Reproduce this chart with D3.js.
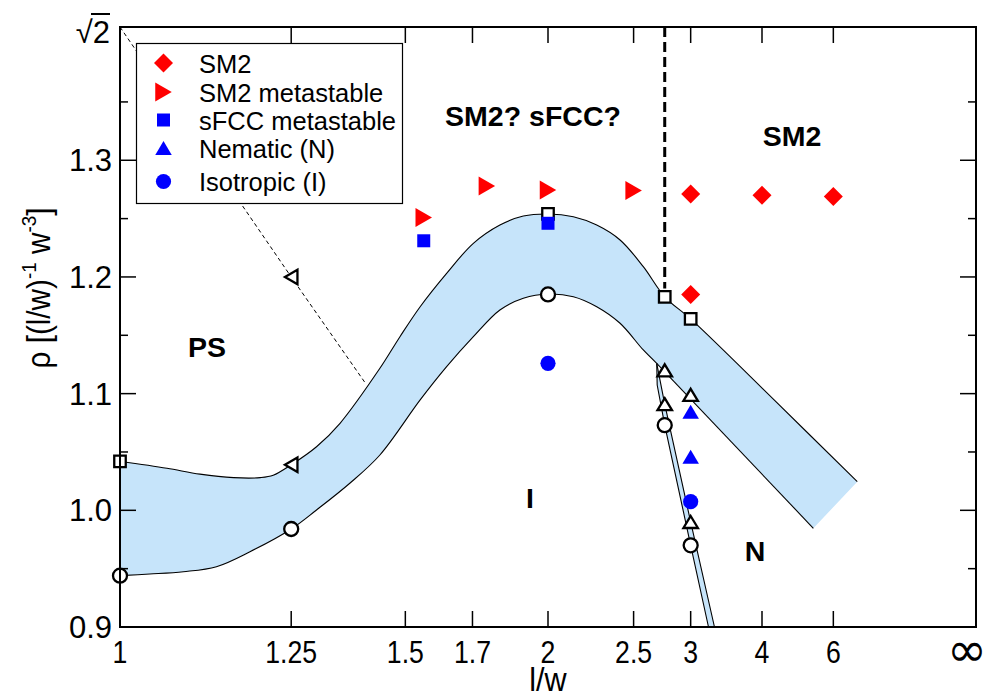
<!DOCTYPE html>
<html>
<head>
<meta charset="utf-8">
<script src="https://cdn.jsdelivr.net/npm/d3@7"></script>
<style>
    body { margin: 0; background: white; }
</style>
</head>
<body>
<div id="canvas"></div>
<script>
"use strict";

/**** CONFIGURATION VARIABLES ****/
let svgWidth = 987;
let svgHeight = 692;

let plotLeft = 120;
let plotRight = 976;
let plotTop = 27;
let plotBottom = 627;

let fontMain = "'Liberation Sans', Arial, Helvetica, sans-serif";
let narrow = 0.82;   // axis labels are set in a condensed face

/**** TICKS ****/
let xTicks = [1, 1.25, 1.5, 1.7, 2, 2.5, 3, 4, 6, Infinity];
let xTickLabels = ["1", "1.25", "1.5", "1.7", "2", "2.5", "3", "4", "6", "∞"];
let yTicks = [0.9, 1.0, 1.1, 1.2, 1.3];
let yTickLabels = ["0.9", "1.0", "1.1", "1.2", "1.3"];
let yMinorTicks = [0.95, 1.05, 1.15, 1.25, 1.35];

/**** SIMULATION STATE POINTS (l/w, rho) ****/
let sm2 = [[3, 1.271], [4, 1.270], [6, 1.269], [3, 1.185]];
let sm2Meta = [[1.55, 1.251], [1.75, 1.278], [2, 1.2745], [2.5, 1.274]];
let sfccMeta = [[1.55, 1.231], [2, 1.246]];
let nematic = [[3, 1.0845], [3, 1.046]];
let isotropic = [[2, 1.126], [3, 1.0074]];

/**** COEXISTENCE POINTS ****/
let coexSquares = [[1, 1.042], [2, 1.254], [2.75, 1.183], [3, 1.164]];
let coexCircles = [[1, 0.944], [1.25, 0.984], [2, 1.185], [2.75, 1.073], [3, 0.970]];
let coexTriUp = [[2.75, 1.120], [2.75, 1.091], [3, 1.099], [3, 0.990]];
let coexTriLeft = [[1.25, 1.039], [1.25, 1.200]];

/**** PHASE BOUNDARIES ****/
let upperCurve = [[1, 1.042], [1.058, 1.036], [1.103, 1.031], [1.153, 1.028], [1.196, 1.028],
    [1.218, 1.030], [1.25, 1.039], [1.298, 1.0545], [1.346, 1.0746], [1.436, 1.1217],
    [1.486, 1.1488], [1.540, 1.1745], [1.617, 1.2031], [1.703, 1.2288], [1.798, 1.2445],
    [1.891, 1.2522], [2, 1.254], [2.126, 1.2516], [2.257, 1.2445], [2.405, 1.2317],
    [2.573, 1.2088], [2.75, 1.183], [3, 1.164], [4.24, 1.0946], [7.21, 1.0245]];
let lowerCurve = [[1, 0.944], [1.036, 0.9454], [1.080, 0.9474], [1.127, 0.9517], [1.179, 0.9645],
    [1.25, 0.984], [1.298, 1.0003], [1.367, 1.0232], [1.436, 1.0474], [1.540, 1.0946],
    [1.617, 1.1231], [1.703, 1.1488], [1.798, 1.1717], [1.891, 1.1817], [2, 1.1854],
    [2.126, 1.1831], [2.257, 1.1745], [2.405, 1.1603], [2.573, 1.1374], [2.681, 1.126]];
let nLineLow = [[2.681, 1.126], [2.685, 1.1074], [2.75, 1.073], [3, 0.970], [3.2, 0.9]];
let nLineHigh = [[2.681, 1.126], [2.75, 1.091], [3, 0.990], [3.273, 0.9]];
let nsmLine = [[2.681, 1.126], [5.263, 0.9846]];
let bandCap = [5.263, 0.9846];
let psLine = [[1, Math.SQRT2], [1.25, 1.2], [1.4, 1.11]];
let sm2Divider = [[2.75, Math.SQRT2], [2.75, 1.19]];

/**** REGION LABELS ****/
let regionLabels = [
    { text: "SM2? sFCC?", x: 533, y: 126 },
    { text: "SM2", x: 792, y: 146 },
    { text: "PS", x: 207, y: 357 },
    { text: "I", x: 530, y: 508 },
    { text: "N", x: 755, y: 561 }
];

/**** CREATE SVG CANVAS ****/
let svg = d3.select("#canvas")
    .append("svg")
    .attr("width", svgWidth)
    .attr("height", svgHeight)
    .style("display", "block")
    .style("background", "white");

/**** CREATE SCALES ****/
// x axis is linear in 1 - w/l, so l/w = infinity lands on the right edge
let uScale = d3.scaleLinear()
    .domain([0, 1])
    .range([plotLeft, plotRight]);

function xPos(v) {
    return uScale(1 - 1 / v);
}

let yScale = d3.scaleLinear()
    .domain([0.9, Math.SQRT2])
    .range([plotBottom, plotTop]);

let smoothLine = d3.line()
    .x(function(d) { return xPos(d[0]); })
    .y(function(d) { return yScale(d[1]); })
    .curve(d3.curveCatmullRom.alpha(0.5));

let straightLine = d3.line()
    .x(function(d) { return xPos(d[0]); })
    .y(function(d) { return yScale(d[1]); });

/**** COEXISTENCE BANDS ****/
let lowerBack = smoothLine(lowerCurve.slice().reverse()).replace(/^M/, "L");
let bandPath = smoothLine(upperCurve)
    + "L" + xPos(bandCap[0]) + "," + yScale(bandCap[1])
    + lowerBack + "Z";

svg.append("path")
    .attr("d", bandPath)
    .attr("fill", "#c6e4fa")
    .attr("stroke", "none");

let narrowPath = straightLine(nLineLow.concat(nLineHigh.slice().reverse())) + "Z";
svg.append("path")
    .attr("d", narrowPath)
    .attr("fill", "#c6e4fa")
    .attr("stroke", "none");

/**** BOUNDARY LINES ****/
[upperCurve, lowerCurve].forEach(function(c) {
    svg.append("path")
        .attr("d", smoothLine(c))
        .attr("fill", "none")
        .attr("stroke", "black")
        .attr("stroke-width", 1.1);
});

[nLineLow, nLineHigh, nsmLine].forEach(function(c) {
    svg.append("path")
        .attr("d", straightLine(c))
        .attr("fill", "none")
        .attr("stroke", "black")
        .attr("stroke-width", 1.1);
});

svg.append("path")
    .attr("d", straightLine(psLine))
    .attr("fill", "none")
    .attr("stroke", "black")
    .attr("stroke-width", 1)
    .attr("stroke-dasharray", "4,3");

svg.append("path")
    .attr("d", straightLine(sm2Divider))
    .attr("fill", "none")
    .attr("stroke", "black")
    .attr("stroke-width", 3)
    .attr("stroke-dasharray", "10,5");

/**** MARKER SHAPES ****/
function squarePath(s) {
    return "M" + (-s / 2) + "," + (-s / 2) + "h" + s + "v" + s + "h" + (-s) + "Z";
}
function diamondPath(r) {
    return "M0," + (-r) + "L" + r + ",0L0," + r + "L" + (-r) + ",0Z";
}
function triUpPath(w, h) {
    return "M0," + (-h / 2) + "L" + (w / 2) + "," + (h / 2) + "L" + (-w / 2) + "," + (h / 2) + "Z";
}
function triRightPath(w, h) {
    return "M" + (-w / 2) + "," + (-h / 2) + "L" + (w / 2) + ",0L" + (-w / 2) + "," + (h / 2) + "Z";
}
function triLeftPath(w, h) {
    return "M" + (w / 2) + "," + (-h / 2) + "L" + (-w / 2) + ",0L" + (w / 2) + "," + (h / 2) + "Z";
}
function circlePath(r) {
    return "M" + r + ",0A" + r + "," + r + " 0 1,1 " + (-r) + ",0A" + r + "," + r + " 0 1,1 " + r + ",0Z";
}

function drawMarkers(data, shape, fill, stroke) {
    svg.append("g")
        .selectAll("path")
        .data(data)
        .join("path")
        .attr("transform", function(d) {
            return "translate(" + xPos(d[0]) + "," + yScale(d[1]) + ")";
        })
        .attr("d", shape)
        .attr("fill", fill)
        .attr("stroke", stroke)
        .attr("stroke-width", stroke === "none" ? 0 : 2.3);
}

/**** OPEN (COEXISTENCE) MARKERS ****/
drawMarkers(coexSquares, squarePath(11.5), "white", "black");
drawMarkers(coexCircles, circlePath(7), "white", "black");
drawMarkers(coexTriUp, triUpPath(14.5, 12), "white", "black");
drawMarkers(coexTriLeft, triLeftPath(12.5, 14.5), "white", "black");

/**** FILLED (SIMULATION) MARKERS ****/
drawMarkers(sm2, diamondPath(9.5), "#ff0000", "none");
drawMarkers(sm2Meta, triRightPath(16.5, 19), "#ff0000", "none");
drawMarkers(sfccMeta, squarePath(13), "#0000ff", "none");
drawMarkers(nematic, triUpPath(16.5, 14), "#0000ff", "none");
drawMarkers(isotropic, circlePath(7.6), "#0000ff", "none");

/**** PLOT FRAME ****/
svg.append("rect")
    .attr("x", plotLeft)
    .attr("y", plotTop)
    .attr("width", plotRight - plotLeft)
    .attr("height", plotBottom - plotTop)
    .attr("fill", "none")
    .attr("stroke", "black")
    .attr("stroke-width", 2);

/**** TICKS (mirrored on all four sides) ****/
let majorLen = 16;
let minorLen = 8;

xTicks.forEach(function(t) {
    let x = xPos(t);
    svg.append("line")
        .attr("x1", x).attr("x2", x)
        .attr("y1", plotBottom).attr("y2", plotBottom - majorLen)
        .attr("stroke", "black").attr("stroke-width", 1.5);
    svg.append("line")
        .attr("x1", x).attr("x2", x)
        .attr("y1", plotTop).attr("y2", plotTop + majorLen)
        .attr("stroke", "black").attr("stroke-width", 1.5);
});

yTicks.forEach(function(t) {
    let y = yScale(t);
    svg.append("line")
        .attr("x1", plotLeft).attr("x2", plotLeft + majorLen)
        .attr("y1", y).attr("y2", y)
        .attr("stroke", "black").attr("stroke-width", 1.5);
    svg.append("line")
        .attr("x1", plotRight).attr("x2", plotRight - majorLen)
        .attr("y1", y).attr("y2", y)
        .attr("stroke", "black").attr("stroke-width", 1.5);
});

yMinorTicks.forEach(function(t) {
    let y = yScale(t);
    svg.append("line")
        .attr("x1", plotLeft).attr("x2", plotLeft + minorLen)
        .attr("y1", y).attr("y2", y)
        .attr("stroke", "black").attr("stroke-width", 1.5);
    svg.append("line")
        .attr("x1", plotRight).attr("x2", plotRight - minorLen)
        .attr("y1", y).attr("y2", y)
        .attr("stroke", "black").attr("stroke-width", 1.5);
});

/**** LEGEND ****/
let legendItems = [
    { label: "SM2", shape: diamondPath(9.5), color: "#ff0000", y: 63 },
    { label: "SM2 metastable", shape: triRightPath(16.5, 19), color: "#ff0000", y: 92 },
    { label: "sFCC metastable", shape: squarePath(13), color: "#0000ff", y: 120 },
    { label: "Nematic (N)", shape: triUpPath(16.5, 14), color: "#0000ff", y: 148 },
    { label: "Isotropic (I)", shape: circlePath(7.6), color: "#0000ff", y: 181.5 }
];

svg.append("rect")
    .attr("x", 136.5)
    .attr("y", 43.5)
    .attr("width", 266)
    .attr("height", 160)
    .attr("fill", "white")
    .attr("stroke", "black")
    .attr("stroke-width", 1.2);

for (let i = 0; i < legendItems.length; i++) {
    svg.append("path")
        .attr("transform", `translate(163.5,${legendItems[i].y})`)
        .attr("d", legendItems[i].shape)
        .attr("fill", legendItems[i].color);

    svg.append("text")
        .attr("x", 199)
        .attr("y", legendItems[i].y + 9.5)
        .style("font-family", fontMain)
        .style("font-size", "25.5px")
        .text(legendItems[i].label);
}

/**** X AXIS LABELS ****/
for (let i = 0; i < xTicks.length; i++) {
    let isInf = xTicks[i] === Infinity;
    svg.append("text")
        .attr("transform", isInf
            ? `translate(${xPos(xTicks[i]) - 9},666)`
            : `translate(${xPos(xTicks[i])},663) scale(0.86,1)`)
        .attr("text-anchor", "middle")
        .style("font-family", isInf ? "'DejaVu Sans', sans-serif" : fontMain)
        .style("font-size", isInf ? "48px" : "31px")
        .text(xTickLabels[i]);
}

/**** Y AXIS LABELS ****/
for (let i = 0; i < yTicks.length; i++) {
    svg.append("text")
        .attr("x", 112)
        .attr("y", yScale(yTicks[i]) + 11)
        .attr("text-anchor", "end")
        .style("font-family", fontMain)
        .style("font-size", "31px")
        .text(yTickLabels[i]);
}

// sqrt(2) label at the top of the axis
svg.append("text")
    .attr("x", 110)
    .attr("y", 43)
    .attr("text-anchor", "end")
    .style("font-family", fontMain)
    .style("font-size", "31px")
    .text("√2");

svg.append("line")
    .attr("x1", 91).attr("x2", 110)
    .attr("y1", 14).attr("y2", 14)
    .attr("stroke", "black").attr("stroke-width", 2);

/**** AXIS TITLES ****/
svg.append("text")
    .attr("transform", "translate(548,691) scale(0.9,1)")
    .attr("text-anchor", "middle")
    .style("font-family", fontMain)
    .style("font-size", "34px")
    .text("l/w");

let yTitle = svg.append("text")
    .attr("transform", "translate(50,288) rotate(-90) scale(0.9,1)")
    .attr("text-anchor", "middle")
    .style("font-family", fontMain)
    .style("font-size", "33px");

yTitle.append("tspan").text("ρ [(l/w)");
yTitle.append("tspan").attr("dy", -14).style("font-size", "21px").text("-1");
yTitle.append("tspan").attr("dy", 14).text(" w");
yTitle.append("tspan").attr("dy", -14).style("font-size", "21px").text("-3");
yTitle.append("tspan").attr("dy", 14).text("]");

/**** REGION LABELS ****/
svg.selectAll(".region")
    .data(regionLabels)
    .join("text")
    .attr("class", "region")
    .attr("x", function(d) { return d.x; })
    .attr("y", function(d) { return d.y; })
    .attr("text-anchor", "middle")
    .style("font-family", fontMain)
    .style("font-weight", "bold")
    .style("font-size", "28.5px")
    .text(function(d) { return d.text; });
</script>
</body>
</html>
